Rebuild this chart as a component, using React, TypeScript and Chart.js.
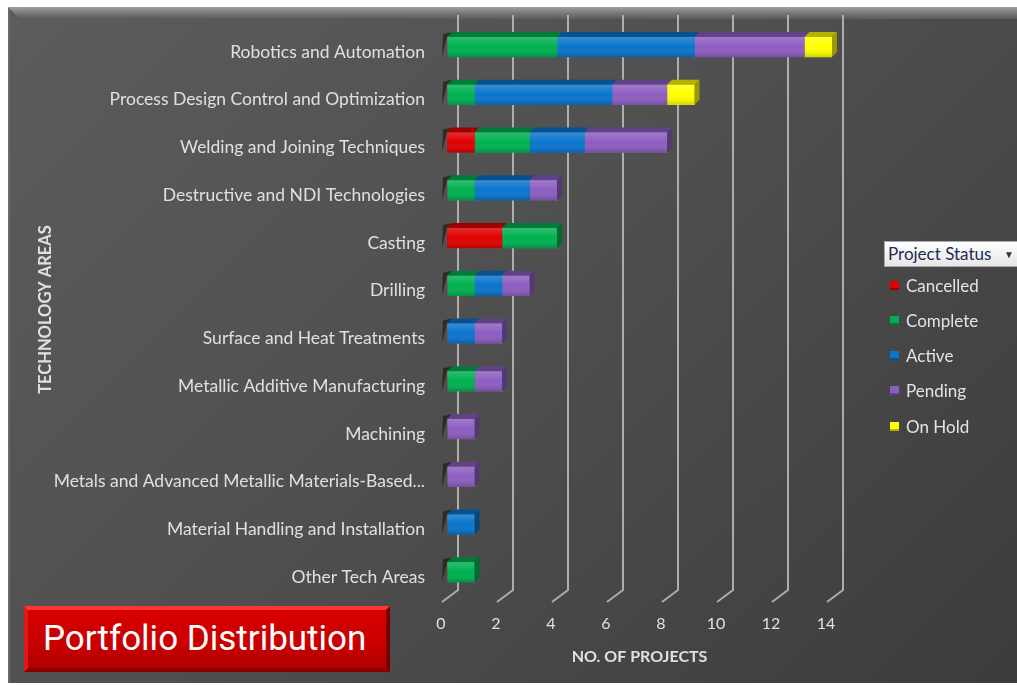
import React, { useEffect, useRef } from "react";
import { Chart, registerables } from "chart.js";

Chart.register(...registerables);

const categories = [
  "Robotics and Automation",
  "Process Design Control and Optimization",
  "Welding and Joining Techniques",
  "Destructive and NDI Technologies",
  "Casting",
  "Drilling",
  "Surface and Heat Treatments",
  "Metallic Additive Manufacturing",
  "Machining",
  "Metals and Advanced Metallic Materials-Based...",
  "Material Handling and Installation",
  "Other Tech Areas",
];
const cancelled = [0, 0, 1, 0, 2, 0, 0, 0, 0, 0, 0, 0];
const complete = [4, 1, 2, 1, 2, 1, 0, 1, 0, 0, 0, 1];
const active = [5, 5, 2, 2, 0, 1, 1, 0, 0, 0, 1, 0];
const pending = [4, 2, 3, 1, 0, 1, 1, 1, 1, 1, 0, 0];
const onHold = [1, 1, 0, 0, 0, 0, 0, 0, 0, 0, 0, 0];
const statusNames = ["Cancelled", "Complete", "Active", "Pending", "On Hold"];
const statusColors = ["#e00000", "#00b050", "#0a74cc", "#8c5ec0", "#ffff00"];
const xTicks = [0, 2, 4, 6, 8, 10, 12, 14];
const yAxisTitle = "TECHNOLOGY AREAS";
const xAxisTitle = "NO. OF PROJECTS";
const legendTitle = "Project Status";
const bannerText = "Portfolio Distribution";

function shade(hex: string, f: number): string {
  const n = parseInt(hex.slice(1), 16);
  let r = (n >> 16) & 255, g = (n >> 8) & 255, b = n & 255;
  if (f < 0) {
    r = Math.round(r * (1 + f)); g = Math.round(g * (1 + f)); b = Math.round(b * (1 + f));
  } else {
    r = Math.round(r + (255 - r) * f); g = Math.round(g + (255 - g) * f); b = Math.round(b + (255 - b) * f);
  }
  return `rgb(${r},${g},${b})`;
}

const gridPlugin = {
  id: "grid3d",
  beforeDatasetsDraw(chart: any) {
    const { ctx, chartArea } = chart;
    const xs = chart.scales.x;
    ctx.save();
    ctx.strokeStyle = "rgba(190,190,190,0.85)";
    ctx.lineWidth = 2;
    xTicks.forEach((v) => {
      const x = xs.getPixelForValue(v);
      ctx.beginPath();
      ctx.moveTo(x + 11, chartArea.top - 8);
      ctx.lineTo(x + 11, chartArea.bottom - 6);
      ctx.lineTo(x - 5, chartArea.bottom + 6);
      ctx.stroke();
    });
    ctx.restore();
  },
};

const bar3dPlugin = {
  id: "bar3d",
  afterDatasetsDraw(chart: any) {
    const { ctx } = chart;
    const d = 5;
    const n = chart.data.labels.length;
    ctx.save();
    for (let i = 0; i < n; i++) {
      let lastDs = -1;
      let firstDs = -1;
      chart.data.datasets.forEach((ds: any, di: number) => {
        if (ds.data[i] > 0) {
          lastDs = di;
          if (firstDs < 0) firstDs = di;
        }
      });
      chart.data.datasets.forEach((ds: any, di: number) => {
        if (!(ds.data[i] > 0)) return;
        const el = chart.getDatasetMeta(di).data[i] as any;
        const top = el.y - el.height / 2;
        const bottom = el.y + el.height / 2;
        const left = Math.min(el.base, el.x);
        const right = Math.max(el.base, el.x);
        const col = ds.backgroundColor as string;
        ctx.fillStyle = shade(col, -0.3);
        ctx.beginPath();
        ctx.moveTo(left, top);
        ctx.lineTo(left + d, top - d);
        ctx.lineTo(right + d, top - d);
        ctx.lineTo(right, top);
        ctx.closePath();
        ctx.fill();
        const g = ctx.createLinearGradient(0, top, 0, bottom);
        g.addColorStop(0, "rgba(255,255,255,0.18)");
        g.addColorStop(0.5, "rgba(255,255,255,0)");
        g.addColorStop(1, "rgba(0,0,0,0.18)");
        ctx.fillStyle = g;
        ctx.fillRect(left, top, right - left, bottom - top);
        if (di === lastDs) {
          ctx.fillStyle = shade(col, -0.4);
          ctx.beginPath();
          ctx.moveTo(right, top);
          ctx.lineTo(right + d, top - d);
          ctx.lineTo(right + d, bottom - d);
          ctx.lineTo(right, bottom);
          ctx.closePath();
          ctx.fill();
        }
        if (di === firstDs) {
          ctx.fillStyle = "rgba(20,20,20,0.6)";
          ctx.beginPath();
          ctx.moveTo(left, top);
          ctx.lineTo(left + d, top - d);
          ctx.lineTo(left - 4, top - d + 2);
          ctx.lineTo(left - 5, bottom);
          ctx.closePath();
          ctx.fill();
        }
      });
    }
    ctx.restore();
  },
};

export default function App() {
  const ref = useRef<HTMLCanvasElement | null>(null);

  useEffect(() => {
    document.body.style.margin = "0";
    const series = [cancelled, complete, active, pending, onHold];
    const chart = new Chart(ref.current as HTMLCanvasElement, {
      type: "bar",
      data: {
        labels: categories,
        datasets: series.map((s, i) => ({
          label: statusNames[i],
          data: s,
          backgroundColor: statusColors[i],
          borderWidth: 0,
          barThickness: 20,
        })),
      },
      options: {
        indexAxis: "y",
        animation: false,
        responsive: false,
        maintainAspectRatio: false,
        layout: { padding: { left: 0, right: 185, top: 23, bottom: 0 } },
        plugins: { legend: { display: false }, tooltip: { enabled: false } },
        scales: {
          x: {
            stacked: true,
            min: 0,
            max: 14,
            afterFit: (s: any) => {
              s.height = 89;
              s.paddingLeft = 0;
              s.paddingRight = 0;
            },
            afterBuildTicks: (s: any) => { s.ticks = xTicks.map((v) => ({ value: v })); },
            grid: { display: false, drawTicks: false },
            border: { display: false },
            ticks: {
              color: "#e0e0e0",
              font: { family: "Lato", size: 16 },
              padding: 18,
              labelOffset: -6,
            },
            title: {
              display: true,
              text: xAxisTitle,
              color: "#e0e0e0",
              font: { family: "Lato", size: 16, weight: "bold" },
              padding: { top: 0, bottom: 19 },
            },
          },
          y: {
            stacked: true,
            afterFit: (s: any) => {
              s.width = 447;
              s.paddingTop = 0;
              s.paddingBottom = 0;
            },
            grid: { display: false, drawTicks: false },
            border: { display: false },
            ticks: {
              color: "#e0e0e0",
              font: { family: "Lato", size: 17.5 },
              padding: 22,
              labelOffset: 5,
              autoSkip: false,
            },
            title: {
              display: true,
              text: yAxisTitle,
              color: "#e0e0e0",
              font: { family: "Lato", size: 16.5, weight: "bold" },
              padding: { top: 36, bottom: 0 },
            },
          },
        },
      } as any,
      plugins: [gridPlugin, bar3dPlugin],
    });
    return () => chart.destroy();
  }, []);

  const legendTops = [285, 320, 355, 390, 426];

  return (
    <div style={{ position: "absolute", left: 0, top: 0, width: 1017, height: 685, background: "#ffffff", overflow: "hidden" }}>
      <div
        style={{
          position: "absolute",
          left: 8,
          top: 7,
          width: 1009,
          height: 676,
          background: "linear-gradient(135deg, #5c5c5c 0%, #505050 45%, #3c3c3c 100%)",
          boxShadow: "inset 2px 0 0 #6a6a6a",
        }}
      />
      <div
        style={{
          position: "absolute",
          left: 8,
          top: 7,
          width: 1009,
          height: 12,
          background: "linear-gradient(180deg, #a0a0a0 0%, #7a7a7a 50%, #5a5a5a 100%)",
          clipPath: "polygon(0 0, 100% 0, 100% 100%, 12px 100%)",
        }}
      />
      <canvas ref={ref} width={1017} height={685} style={{ position: "absolute", left: 0, top: 0, width: 1017, height: 685 }} />
      <div
        style={{
          position: "absolute",
          left: 884,
          top: 241,
          width: 140,
          height: 26,
          boxSizing: "border-box",
          background: "linear-gradient(180deg, #ffffff 0%, #e6e6e6 100%)",
          border: "1px solid #a8a8a8",
          fontFamily: "Lato",
          fontSize: 17,
          color: "#1e2a55",
          lineHeight: "24px",
          paddingLeft: 3,
          whiteSpace: "nowrap",
        }}
      >
        {legendTitle}
        <span style={{ position: "absolute", left: 119, top: 0, fontSize: 10, color: "#333" }}>▼</span>
      </div>
      {statusNames.map((name, i) => (
        <div
          key={name}
          style={{
            position: "absolute",
            left: 890,
            top: legendTops[i] - 11,
            height: 22,
            display: "flex",
            alignItems: "center",
            fontFamily: "Lato",
            fontSize: 17,
            color: "#e4e4e4",
            whiteSpace: "nowrap",
          }}
        >
          <span
            style={{
              display: "inline-block",
              width: 9,
              height: 9,
              background: statusColors[i],
              marginRight: 7,
              boxShadow: "inset 0 -2px 0 rgba(0,0,0,0.3)",
            }}
          />
          {name}
        </div>
      ))}
      <div
        style={{
          position: "absolute",
          left: 24,
          top: 606,
          width: 366,
          height: 66,
          boxSizing: "border-box",
          background: "linear-gradient(180deg, #d80000 0%, #c80000 60%, #b00000 100%)",
          borderStyle: "solid",
          borderWidth: 4,
          borderColor: "#ff3434 #7a0000 #8a0000 #e01818",
          color: "#ffffff",
          fontFamily: "Roboto",
          fontSize: 35,
          lineHeight: "58px",
          paddingLeft: 15,
          whiteSpace: "nowrap",
        }}
      >
        {bannerText}
      </div>
    </div>
  );
}
